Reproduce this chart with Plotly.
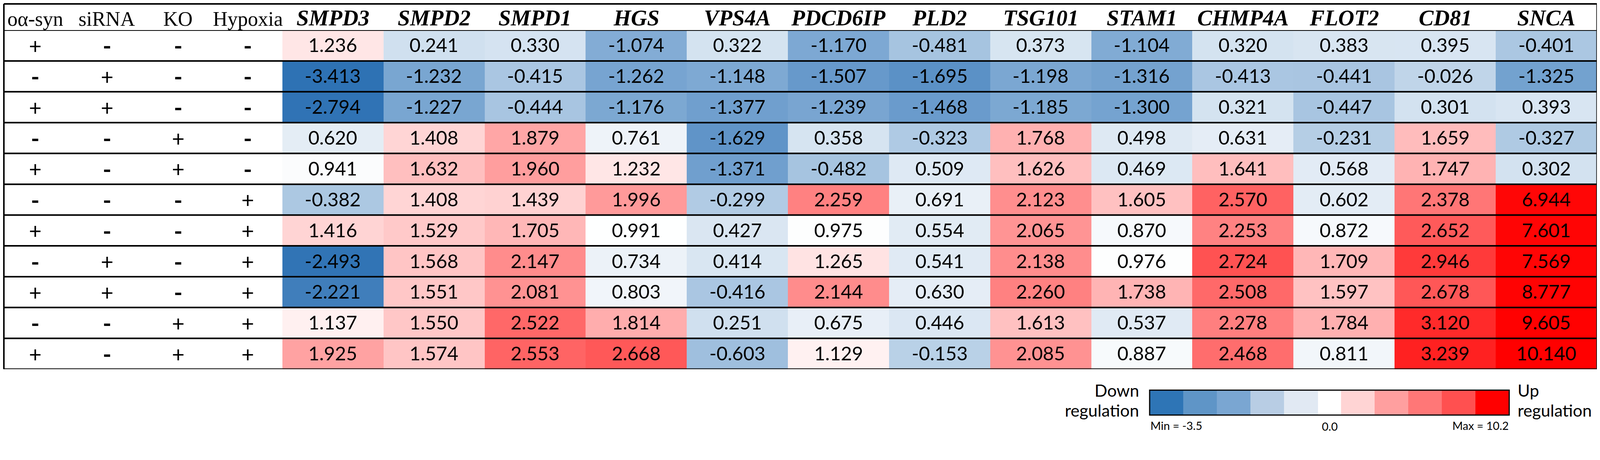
#!/usr/bin/env python3
"""Heatmap table of exosome-pathway gene expression under oα-syn / siRNA / KO / hypoxia."""

import plotly.graph_objects as go

# -- Data --------------------------------------------------------------------
genes = ["SMPD3", "SMPD2", "SMPD1", "HGS", "VPS4A", "PDCD6IP", "PLD2",
         "TSG101", "STAM1", "CHMP4A", "FLOT2", "CD81", "SNCA"]

condition_names = ["oα-syn", "siRNA", "KO", "Hypoxia"]
a_syn   = ["+", "-", "+", "-", "+", "-", "+", "-", "+", "-", "+"]
sirna   = ["-", "+", "+", "-", "-", "-", "-", "+", "+", "-", "-"]
ko      = ["-", "-", "-", "+", "+", "-", "-", "-", "-", "+", "+"]
hypoxia = ["-", "-", "-", "-", "-", "+", "+", "+", "+", "+", "+"]

smpd3   = [1.236, -3.413, -2.794, 0.620, 0.941, -0.382, 1.416, -2.493, -2.221, 1.137, 1.925]
smpd2   = [0.241, -1.232, -1.227, 1.408, 1.632, 1.408, 1.529, 1.568, 1.551, 1.550, 1.574]
smpd1   = [0.330, -0.415, -0.444, 1.879, 1.960, 1.439, 1.705, 2.147, 2.081, 2.522, 2.553]
hgs     = [-1.074, -1.262, -1.176, 0.761, 1.232, 1.996, 0.991, 0.734, 0.803, 1.814, 2.668]
vps4a   = [0.322, -1.148, -1.377, -1.629, -1.371, -0.299, 0.427, 0.414, -0.416, 0.251, -0.603]
pdcd6ip = [-1.170, -1.507, -1.239, 0.358, -0.482, 2.259, 0.975, 1.265, 2.144, 0.675, 1.129]
pld2    = [-0.481, -1.695, -1.468, -0.323, 0.509, 0.691, 0.554, 0.541, 0.630, 0.446, -0.153]
tsg101  = [0.373, -1.198, -1.185, 1.768, 1.626, 2.123, 2.065, 2.138, 2.260, 1.613, 2.085]
stam1   = [-1.104, -1.316, -1.300, 0.498, 0.469, 1.605, 0.870, 0.976, 1.738, 0.537, 0.887]
chmp4a  = [0.320, -0.413, 0.321, 0.631, 1.641, 2.570, 2.253, 2.724, 2.508, 2.278, 2.468]
flot2   = [0.383, -0.441, -0.447, -0.231, 0.568, 0.602, 0.872, 1.709, 1.597, 1.784, 0.811]
cd81    = [0.395, -0.026, 0.301, 1.659, 1.747, 2.378, 2.652, 2.946, 2.678, 3.120, 3.239]
snca    = [-0.401, -1.325, 0.393, -0.327, 0.302, 6.944, 7.601, 7.569, 8.777, 9.605, 10.140]

z_min, z_max = -3.5, 10.2
legend_levels = list(range(11))

# -- Style -------------------------------------------------------------------
# the page is shot a bit larger than css px, with the 8px body margin
SCALE = 1.065
OFFSET = 8.5
FIG_HEIGHT = 1105          # css px
RENDER_W = 4335            # rendered figure width in screenshot px (autosized)
VAL_FONT = "Lato, 'Open Sans', sans-serif"
SERIF = "'Liberation Serif', 'DejaVu Serif', serif"

# value -> colour stops (blue .. white .. red)
scale_stops = [
    (-3.5, "#2e72b4"), (-2.5, "#3174b5"), (-1.7, "#5b91c6"), (-1.2, "#7ba7d2"),
    (-0.4, "#abc7e2"), (0.3, "#d3e2f0"), (0.65, "#e6eef6"), (1.0, "#ffffff"),
    (1.25, "#ffe4e4"), (1.6, "#ffc2c2"), (2.0, "#ff9a9a"), (2.5, "#ff6a6a"),
    (3.0, "#ff3434"), (3.5, "#ff0c0c"), (10.2, "#ff0000"),
]
colorscale = [[(v - z_min) / (z_max - z_min), c] for v, c in scale_stops]

legend_colors = ["#2e75b6", "#5f95c7", "#7aa6d2", "#b8cde4", "#e1e9f3", "#ffffff",
                 "#ffd4d4", "#ff9f9f", "#ff7777", "#ff5050", "#ff0000"]
legend_scale = [[i / 10, c] for i, c in enumerate(legend_colors)]
legend_edges = [0, 1, 2, 3, 4, 5, 5.69, 6.69, 7.69, 8.69, 9.69, 10.69]


def clamp(v, lo=0.0, hi=1.0):
    return max(lo, min(hi, v))


def px_x(p):
    return (p - OFFSET) / RENDER_W


def px_y(p):
    return 1 - (p - OFFSET) / (SCALE * FIG_HEIGHT)


def dom(a, b):
    return [clamp(min(a, b)), clamp(max(a, b))]


# table geometry in (screenshot) pixels
TOP, HEAD_BOT, BOT = 4, 82, 1006
LEFT, GENE_LEFT, RIGHT = 4, 768, 4344
cond_centers = [96, 291, 484, 674]
edge_x = 2 / RENDER_W               # keep outer frame inside the paper
edge_y = 1 - 2 / (SCALE * FIG_HEIGHT)

columns = [smpd3, smpd2, smpd1, hgs, vps4a, pdcd6ip, pld2,
           tsg101, stam1, chmp4a, flot2, cd81, snca]
n_rows = len(smpd3)
z = [[col[r] for col in columns] for r in range(n_rows)]
text = [[f"{v:.3f}" for v in row] for row in z]

fig = go.Figure()
fig.add_trace(go.Heatmap(
    z=z, x=genes, y=list(range(n_rows)), text=text,
    texttemplate="%{text}", textfont=dict(family=VAL_FONT, size=49, color="black"),
    colorscale=colorscale, zmin=z_min, zmax=z_max, showscale=False,
    hoverinfo="skip",
))

# legend strip
fig.add_trace(go.Heatmap(
    z=[legend_levels], x=legend_edges, y=[0],
    colorscale=legend_scale, zmin=0, zmax=10, showscale=False,
    xaxis="x2", yaxis="y2", hoverinfo="skip",
))

ann = []
# condition columns
for ci, (name, vals) in enumerate(zip(condition_names, [a_syn, sirna, ko, hypoxia])):
    ann.append(dict(x=px_x(cond_centers[ci]), y=px_y(52), xref="paper", yref="paper",
                    xanchor="center", yanchor="middle", text=name, showarrow=False,
                    font=dict(family=SERIF, size=52, color="black")))
    for r, s in enumerate(vals):
        ann.append(dict(x=px_x(cond_centers[ci]), y=r, xref="paper", yref="y",
                        xanchor="center", yanchor="middle",
                        text=s if s == "+" else "<b>-</b>", showarrow=False,
                        font=dict(family=VAL_FONT, size=56 if s == "+" else 60,
                                  color="black")))
# gene headers
for g in genes:
    ann.append(dict(x=g, y=px_y(48), xref="x", yref="paper",
                    xanchor="center", yanchor="middle",
                    text=f"<b><i>{g}</i></b>", showarrow=False,
                    font=dict(family=SERIF, size=57, color="black")))

# legend labels
LEG_L, LEG_R, LEG_T, LEG_B = 3127, 4105, 1063, 1131
lab_font = dict(family=VAL_FONT, size=43, color="black")
small_font = dict(family=VAL_FONT, size=29, color="black")


def label(x, y, s, anchor, font):
    return dict(x=px_x(x), y=px_y(y), xref="paper", yref="paper", text=s,
                xanchor=anchor, yanchor="middle", showarrow=False, font=font)


ann += [
    label(3100, 1063, "Down", "right", lab_font),
    label(3100, 1118, "regulation", "right", lab_font),
    label(4126, 1063, "Up", "left", lab_font),
    label(4126, 1118, "regulation", "left", lab_font),
    label(LEG_L, 1159, "Min = -3.5", "left", small_font),
    label(3617, 1161, "0.0", "center", small_font),
    label(LEG_R, 1159, "Max = 10.2", "right", small_font),
]

shapes = []
line = dict(color="black", width=4)
x_left, x_right = max(px_x(LEFT), edge_x), px_x(RIGHT)
# horizontal rules
shapes.append(dict(type="line", xref="paper", yref="paper",
                   x0=x_left, x1=x_right, y0=edge_y, y1=edge_y, line=line))
for k in range(n_rows + 1):
    shapes.append(dict(type="line", xref="paper", yref="y",
                       x0=x_left, x1=x_right, y0=k - 0.5, y1=k - 0.5, line=line))
# outer verticals
for xp in (x_left, x_right):
    shapes.append(dict(type="line", xref="paper", yref="paper",
                       x0=xp, x1=xp, y0=edge_y, y1=px_y(BOT), line=line))
# legend frame
shapes.append(dict(type="rect", xref="paper", yref="paper",
                   x0=px_x(LEG_L), x1=px_x(LEG_R), y0=px_y(LEG_B), y1=px_y(LEG_T),
                   line=dict(color="black", width=3)))

hidden = dict(showticklabels=False, showgrid=False, zeroline=False, ticks="",
              showline=False, fixedrange=True)
fig.update_layout(
    height=FIG_HEIGHT,
    margin=dict(l=0, r=0, t=0, b=0, pad=0),
    paper_bgcolor="white", plot_bgcolor="white",
    xaxis=dict(domain=dom(px_x(GENE_LEFT), px_x(RIGHT)), **hidden),
    yaxis=dict(domain=dom(px_y(BOT), px_y(HEAD_BOT)), range=[n_rows - 0.5, -0.5], **hidden),
    xaxis2=dict(domain=dom(px_x(LEG_L), px_x(LEG_R)), range=[0, legend_edges[-1]],
                anchor="y2", **hidden),
    yaxis2=dict(domain=dom(px_y(LEG_B), px_y(LEG_T)), range=[-0.5, 0.5], anchor="x2",
                **hidden),
    annotations=ann,
    shapes=shapes,
    showlegend=False,
)

fig.write_html("out.html")
